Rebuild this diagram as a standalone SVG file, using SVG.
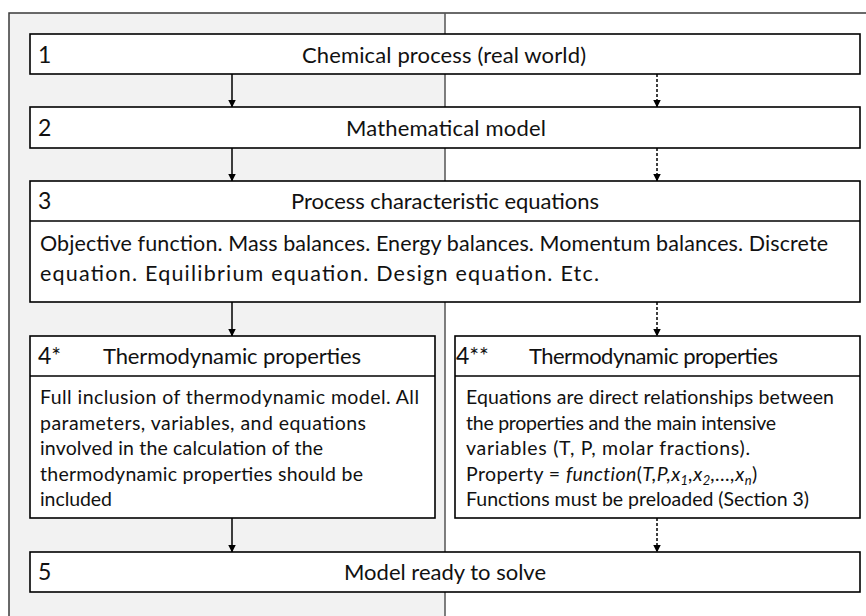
<svg xmlns="http://www.w3.org/2000/svg" width="866" height="616" viewBox="0 0 866 616">
<defs>
<style>
.bx{fill:#ffffff;stroke:#000000;stroke-width:1.6}
.dv{stroke:#000000;stroke-width:1.6}
.t{font-family:Lato,"Liberation Sans",sans-serif;font-size:22px;fill:#111111}
.n{font-family:Lato,"Liberation Sans",sans-serif;font-size:23px;fill:#111111}
.b{font-family:Lato,"Liberation Sans",sans-serif;font-size:19.5px;fill:#111111}
.b3{font-size:21.5px}
.c{text-anchor:middle}
.i{font-style:italic}
.s{font-size:13px}
.ar{stroke:#000000;stroke-width:1.5;fill:none}
.da{stroke-dasharray:3 2}
</style>
<marker id="ah" markerWidth="8" markerHeight="8" viewBox="0 0 8 8" refX="7.5" refY="4" orient="auto" markerUnits="userSpaceOnUse">
<path d="M0,0 L8,4 L0,8 Z" fill="#000000"/>
</marker>
</defs>
<g id="background">
<rect x="9" y="13" width="436" height="610" fill="#f2f2f2"/>
<path d="M9,616 V13 H866" fill="none" stroke="#3a3a3a" stroke-width="1.5"/>
<line x1="445" y1="13" x2="445" y2="616" stroke="#555555" stroke-width="1.5"/>
</g>
<g id="connectors">
<line class="ar" x1="232" y1="74" x2="232" y2="107" marker-end="url(#ah)"/>
<line class="ar" x1="232" y1="148" x2="232" y2="181" marker-end="url(#ah)"/>
<line class="ar" x1="232" y1="302" x2="232" y2="336" marker-end="url(#ah)"/>
<line class="ar" x1="232" y1="518" x2="232" y2="552" marker-end="url(#ah)"/>
<line class="ar da" x1="657" y1="74" x2="657" y2="107" marker-end="url(#ah)"/>
<line class="ar da" x1="657" y1="148" x2="657" y2="181" marker-end="url(#ah)"/>
<line class="ar da" x1="657" y1="302" x2="657" y2="336" marker-end="url(#ah)"/>
<line class="ar da" x1="657" y1="518" x2="657" y2="552" marker-end="url(#ah)"/>
</g>
<g id="node1">
<rect class="bx" x="30" y="34" width="830" height="40"/>
<text class="n" x="38" y="63">1</text>
<text class="t c" x="444" y="63" textLength="284">Chemical process (real world)</text>
</g>
<g id="node2">
<rect class="bx" x="30" y="107" width="830" height="41"/>
<text class="n" x="38" y="136">2</text>
<text class="t c" x="446" y="136" textLength="200">Mathematical model</text>
</g>
<g id="node3">
<rect class="bx" x="30" y="181" width="830" height="121"/>
<line class="dv" x1="30" y1="221" x2="860" y2="221"/>
<text class="n" x="38" y="209">3</text>
<text class="t c" x="445" y="209" textLength="308">Process characteristic equations</text>
<text class="b b3" x="40" y="251" textLength="788">Objective function. Mass balances. Energy balances. Momentum balances. Discrete</text>
<text class="b b3" x="40" y="281" textLength="559">equation. Equilibrium equation. Design equation. Etc.</text>
</g>
<g id="node4a">
<rect class="bx" x="30" y="336" width="405" height="182"/>
<line class="dv" x1="30" y1="376" x2="435" y2="376"/>
<text class="n" x="38" y="364">4*</text>
<text class="t" x="103" y="364" textLength="258">Thermodynamic properties</text>
<text class="b" x="40" y="404" textLength="379">Full inclusion of thermodynamic model. All</text>
<text class="b" x="40" y="429.5" textLength="326">parameters, variables, and equations</text>
<text class="b" x="40" y="455" textLength="283">involved in the calculation of the</text>
<text class="b" x="40" y="480.5" textLength="323">thermodynamic properties should be</text>
<text class="b" x="40" y="506" textLength="72">included</text>
</g>
<g id="node4b">
<rect class="bx" x="455" y="336" width="405" height="182"/>
<line class="dv" x1="455" y1="376" x2="860" y2="376"/>
<text class="n" x="456" y="364">4**</text>
<text class="t" x="529" y="364" textLength="249">Thermodynamic properties</text>
<text class="b" x="466" y="404" textLength="368">Equations are direct relationships between</text>
<text class="b" x="466" y="429.5" textLength="310">the properties and the main intensive</text>
<text class="b" x="466" y="455" textLength="284">variables (T, P, molar fractions).</text>
<text class="b" x="466" y="480.5" letter-spacing="0.4">Property = <tspan class="i">function</tspan>(<tspan class="i">T,P,x</tspan><tspan class="i s" dy="4">1</tspan><tspan class="i" dy="-4">,x</tspan><tspan class="i s" dy="4">2</tspan><tspan class="i" dy="-4">,…,x</tspan><tspan class="i s" dy="4">n</tspan><tspan dy="-4">)</tspan></text>
<text class="b" x="466" y="506" textLength="343">Functions must be preloaded (Section 3)</text>
</g>
<g id="node5">
<rect class="bx" x="30" y="552" width="830" height="40"/>
<text class="n" x="38" y="580">5</text>
<text class="t c" x="445" y="580" textLength="202">Model ready to solve</text>
</g>
</svg>
